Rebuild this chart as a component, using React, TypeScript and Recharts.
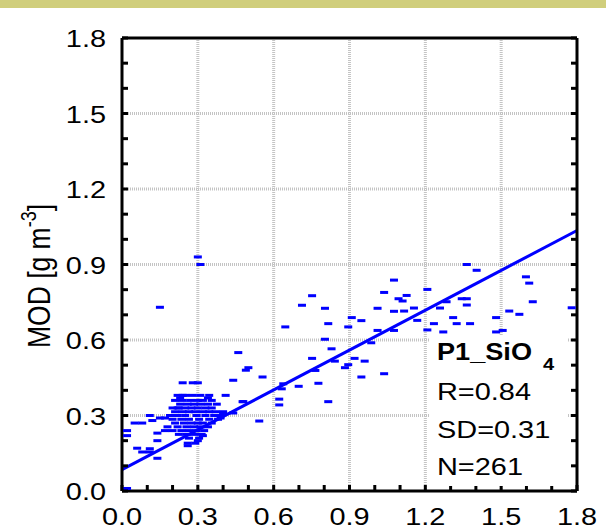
import React from "react";
import { ScatterChart, Scatter, XAxis, YAxis, CartesianGrid, ReferenceLine } from "recharts";

// axis ticks: minor every 0.1, labels + grid every 0.3
const tickValues = [0, 0.1, 0.2, 0.3, 0.4, 0.5, 0.6, 0.7, 0.8, 0.9, 1.0, 1.1, 1.2, 1.3, 1.4, 1.5, 1.6, 1.7, 1.8];
const labelValues = [0, 0.3, 0.6, 0.9, 1.2, 1.5, 1.8];
const gridValues = [0.3, 0.6, 0.9, 1.2, 1.5];

// fitted line end points
const fitX = [0, 1.8];
const fitY = [0.085, 1.035];

const obsX = [
  0.02, 0.02, 0.02, 0.05, 0.08, 0.11, 0.12, 0.15, 0.17, 0.14, 0.14, 0.06, 0.08, 0.11, 0.11, 0.14,
  0.15, 0.30, 0.31, 0.24, 0.28, 0.30, 0.44, 0.24, 0.23, 0.34, 0.41, 0.22, 0.26, 0.29, 0.26, 0.30,
  0.32, 0.46, 0.40, 0.44, 0.39, 0.48,
  0.22, 0.25, 0.28, 0.31, 0.345,
  0.21, 0.24, 0.27, 0.30, 0.32, 0.355,
  0.23, 0.26, 0.285, 0.31, 0.34, 0.375,
  0.20, 0.225, 0.25, 0.275, 0.30, 0.33, 0.355,
  0.21, 0.24, 0.265, 0.29, 0.32, 0.345, 0.37, 0.40,
  0.19, 0.22, 0.25, 0.295, 0.33, 0.365, 0.39,
  0.20, 0.235, 0.265, 0.305, 0.345, 0.38,
  0.21, 0.245, 0.275, 0.30, 0.32, 0.355,
  0.18, 0.22, 0.255, 0.285, 0.31, 0.34,
  0.17, 0.20, 0.235, 0.265, 0.295, 0.325,
  0.225, 0.255, 0.285, 0.315,
  0.265, 0.305,
  0.49, 0.50, 0.556, 0.477, 0.543, 0.646, 0.712, 0.752, 0.803, 0.816, 0.803, 0.829, 0.752, 0.765,
  0.842, 0.638, 0.632, 0.699, 0.777, 0.622, 0.622, 0.816, 0.909, 0.895, 0.947, 0.882, 0.895, 0.92,
  0.96, 0.947, 0.986, 1.011, 1.037, 1.076, 1.094, 1.076, 1.011, 1.076, 1.037,
  1.11, 1.126, 1.116, 1.155, 1.168, 1.208, 1.208, 1.234, 1.271, 1.258, 1.284, 1.31, 1.324, 1.344,
  1.364, 1.364, 1.377, 1.364, 1.403, 1.48, 1.48, 1.506, 1.532, 1.572, 1.598, 1.611, 1.625, 1.779,
];
const modY = [
  0.01, 0.24, 0.22, 0.27, 0.27, 0.30, 0.28, 0.29, 0.29, 0.23, 0.20, 0.17, 0.155, 0.155, 0.168, 0.13,
  0.73, 0.93, 0.90, 0.43, 0.43, 0.43, 0.44, 0.38, 0.37, 0.37, 0.38, 0.33, 0.19, 0.19, 0.18, 0.20,
  0.22, 0.55, 0.31, 0.31, 0.29, 0.355,
  0.38, 0.38, 0.38, 0.38, 0.38,
  0.36, 0.36, 0.36, 0.36, 0.36, 0.36,
  0.345, 0.345, 0.345, 0.345, 0.345, 0.345,
  0.33, 0.33, 0.33, 0.33, 0.33, 0.33, 0.33,
  0.315, 0.315, 0.315, 0.315, 0.315, 0.315, 0.315, 0.315,
  0.30, 0.30, 0.30, 0.30, 0.30, 0.30, 0.30,
  0.285, 0.285, 0.285, 0.285, 0.285, 0.285,
  0.27, 0.27, 0.27, 0.27, 0.27, 0.27,
  0.255, 0.255, 0.255, 0.255, 0.255, 0.255,
  0.24, 0.24, 0.24, 0.24, 0.24, 0.24,
  0.225, 0.225, 0.225, 0.225,
  0.21, 0.21,
  0.48, 0.49, 0.453, 0.355, 0.278, 0.652, 0.738, 0.776, 0.726, 0.665, 0.603, 0.565, 0.527, 0.479,
  0.516, 0.426, 0.406, 0.416, 0.428, 0.365, 0.342, 0.355, 0.689, 0.652, 0.677, 0.49, 0.502, 0.527,
  0.516, 0.453, 0.589, 0.726, 0.789, 0.838, 0.764, 0.714, 0.638, 0.638, 0.466,
  0.755, 0.777, 0.715, 0.727, 0.678, 0.801, 0.64, 0.665, 0.632, 0.727, 0.752, 0.689, 0.665, 0.764,
  0.764, 0.739, 0.665, 0.90, 0.877, 0.689, 0.632, 0.638, 0.715, 0.702, 0.851, 0.826, 0.752, 0.728,
];

const statTitle = "P1_SiO";
const statSub = "4";
const statLines = ["R=0.84", "SD=0.31", "N=261"];

const FONT = "'Liberation Sans', Arial, Helvetica, sans-serif";
const SX = 1.18; // the figure is a bit stretched sideways
const FS = 24.5;

const isMajor = (v: number) => labelValues.some((l) => Math.abs(l - v) < 1e-6);
const fmt = (v: number) => v.toFixed(1);

const BottomTick = ({ x, y, payload }: any) => (
  <g>
    <line x1={x} y1={y} x2={x} y2={y - 6} stroke="#000" strokeWidth={3} />
    {isMajor(payload.value) && (
      <text transform={`translate(${x},${y + 34}) scale(${SX},1)`} textAnchor="middle" fontSize={FS} fontFamily={FONT} fill="#000">
        {fmt(payload.value)}
      </text>
    )}
  </g>
);

const LeftTick = ({ x, y, payload }: any) => (
  <g>
    <line x1={x} y1={y} x2={x + 6} y2={y} stroke="#000" strokeWidth={3} />
    {isMajor(payload.value) && (
      <text transform={`translate(${x - 16},${y + 9}) scale(${SX},1)`} textAnchor="end" fontSize={FS} fontFamily={FONT} fill="#000">
        {fmt(payload.value)}
      </text>
    )}
  </g>
);

const TopTick = ({ x, y }: any) => <line x1={x} y1={y} x2={x} y2={y + 6} stroke="#000" strokeWidth={3} />;
const RightTick = ({ x, y }: any) => <line x1={x} y1={y} x2={x - 6} y2={y} stroke="#000" strokeWidth={3} />;

const Dash = ({ cx, cy }: any) => <rect x={cx - 4} y={cy - 1.5} width={8} height={3} fill="#0000ff" />;

export default function App() {
  const points = obsX.map((x, i) => ({ x, y: modY[i] }));
  const axisLine = { stroke: "#000", strokeWidth: 3 };

  return (
    <div style={{ position: "fixed", left: 0, top: 0, width: 606, height: 532, background: "#fff" }}>
      <div style={{ position: "absolute", left: 0, top: 0, width: 606, height: 8, background: "#d0ce7c" }} />
      <div style={{ position: "absolute", left: 0, top: 0 }}>
        <ScatterChart width={606} height={532} margin={{ top: 8, right: 0, bottom: 0, left: 62 }}>
          <CartesianGrid
            verticalValues={gridValues}
            horizontalValues={gridValues}
            stroke="#c4c4c4"
            strokeWidth={3}
            strokeDasharray="1 1"
          />
          <XAxis dataKey="x" type="number" domain={[0, 1.8]} ticks={tickValues} interval={0} tick={BottomTick}
            tickLine={false} tickSize={0} tickMargin={0} height={41} axisLine={axisLine} allowDataOverflow />
          <YAxis dataKey="y" type="number" domain={[0, 1.8]} ticks={tickValues} interval={0} tick={LeftTick}
            tickLine={false} tickSize={0} tickMargin={0} width={60} axisLine={axisLine} allowDataOverflow />
          <XAxis xAxisId="top" orientation="top" type="number" domain={[0, 1.8]} ticks={tickValues} interval={0}
            tick={TopTick} tickLine={false} tickSize={0} tickMargin={0} height={30} axisLine={axisLine} allowDataOverflow />
          <YAxis yAxisId="right" orientation="right" type="number" domain={[0, 1.8]} ticks={tickValues} interval={0}
            tick={RightTick} tickLine={false} tickSize={0} tickMargin={0} width={29} axisLine={axisLine} allowDataOverflow />
          <Scatter data={points} shape={Dash} isAnimationActive={false} />
          <ReferenceLine
            segment={[{ x: fitX[0], y: fitY[0] }, { x: fitX[1], y: fitY[1] }]}
            stroke="#0000ff"
            strokeWidth={3}
          />
        </ScatterChart>
      </div>
      <svg width={606} height={532} style={{ position: "absolute", left: 0, top: 0, pointerEvents: "none" }}>
        <text transform={`translate(50,276) scale(${SX},1) rotate(-90)`} textAnchor="middle" fontSize={26.5} fontFamily={FONT} fill="#000">
          MOD [g m<tspan fontSize={18} dy={-12}>-3</tspan><tspan dy={12}>]</tspan>
        </text>
        <rect x={430} y={335} width={137} height={151} fill="#fff" />
        <g fontFamily={FONT} fill="#000">
          <text transform={`translate(437,360) scale(${SX},1)`} fontSize={23} fontWeight="bold">
            {statTitle}
          </text>
          <text transform={`translate(543,370) scale(${SX},1)`} fontSize={17} fontWeight="bold">
            {statSub}
          </text>
          {statLines.map((s, i) => (
            <text key={s} transform={`translate(437,${400 + i * 37.5}) scale(${SX},1)`} fontSize={FS}>
              {s}
            </text>
          ))}
        </g>
      </svg>
    </div>
  );
}
